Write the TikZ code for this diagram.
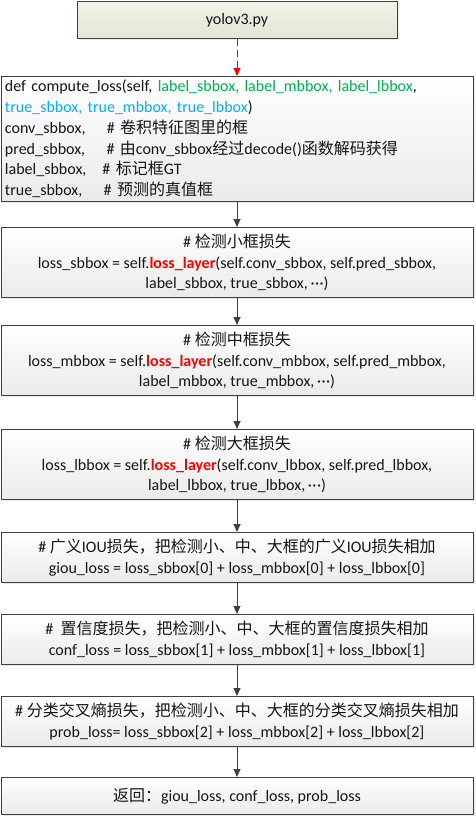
\documentclass[tikz,border=0pt]{standalone}
\usepackage{fontspec}
\setmainfont{Carlito}
\newfontfamily\cjk[Scale=1.0]{Noto Sans CJK SC}
\usetikzlibrary{arrows.meta,shadows}
\definecolor{lgreen}{HTML}{00B050}
\definecolor{lblue}{HTML}{00B0F0}
\definecolor{edge}{HTML}{404040}
\definecolor{txt}{HTML}{151515}
\newcommand\zh[1]{{\cjk #1}}
\newcommand\rl[1]{\textcolor{red}{\textbf{#1}}}
\newcommand\mdots{\,·\kern0.5pt·\kern0.5pt·}
\tikzset{
  box/.style={draw=edge, line width=0.9pt, top color=white, bottom color=black!8,
    drop shadow={shadow xshift=2pt, shadow yshift=-2pt, fill=black!18},
    minimum width=472pt, anchor=north, text=txt, align=center, inner sep=2pt,
    font=\fontsize{16}{20.8}\selectfont},
  topbox/.style={box, top color={rgb,255:red,240;green,243;blue,231}, bottom color={rgb,255:red,226;green,230;blue,212}, minimum width=320pt},
  arr/.style={draw=edge, line width=0.9pt, -{Triangle[length=8pt,width=7pt]}},
  darr/.style={draw=red, line width=0.9pt, dash pattern=on 7pt off 4pt, -{Triangle[length=8pt,width=7pt]}, fill=red}
}
\begin{document}
\begin{tikzpicture}[x=1pt,y=-1pt]
\useasboundingbox (0,0) rectangle (476,816);
\node[topbox, minimum height=37pt] (b1) at (237,1) {yolov3.py};
\node[box, minimum height=125pt, align=left, text width=464pt, inner xsep=4pt] (b2) at (237,76) {%
def compute\_loss(self, \textcolor{lgreen}{label\_sbbox, label\_mbbox, label\_lbbox},\\
\textcolor{lblue}{true\_sbbox, true\_mbbox, true\_lbbox})\\
conv\_sbbox,\quad\ \# \zh{卷积特征图里的框}\\
pred\_sbbox,\quad\ \# \zh{由}conv\_sbbox\zh{经过}decode()\zh{函数解码获得}\\
label\_sbbox,\quad \# \zh{标记框}GT\\
true\_sbbox,\quad\ \# \zh{预测的真值框}};
\node[box, minimum height=70pt] (b3) at (237,227) {%
\# \zh{检测小框损失}\\
loss\_sbbox = self.\rl{loss\_layer}(self.conv\_sbbox, self.pred\_sbbox,\\
label\_sbbox, true\_sbbox,\mdots)};
\node[box, minimum height=70pt] (b4) at (237,325) {%
\# \zh{检测中框损失}\\
loss\_mbbox = self.\rl{loss\_layer}(self.conv\_mbbox, self.pred\_mbbox,\\
label\_mbbox, true\_mbbox,\mdots)};
\node[box, minimum height=70pt] (b5) at (237,429) {%
\# \zh{检测大框损失}\\
loss\_lbbox = self.\rl{loss\_layer}(self.conv\_lbbox, self.pred\_lbbox,\\
label\_lbbox, true\_lbbox,\mdots)};
\node[box, minimum height=50pt] (b6) at (237,532) {%
\# \zh{广义}IOU\zh{损失，把检测小、中、大框的广义}IOU\zh{损失相加}\\
giou\_loss = loss\_sbbox[0] + loss\_mbbox[0] + loss\_lbbox[0]};
\node[box, minimum height=50pt] (b7) at (237,614) {%
\# \ \zh{置信度损失，把检测小、中、大框的置信度损失相加}\\
conf\_loss = loss\_sbbox[1] + loss\_mbbox[1] + loss\_lbbox[1]};
\node[box, minimum height=50pt] (b8) at (237,696) {%
\# \zh{分类交叉熵损失，把检测小、中、大框的分类交叉熵损失相加}\\
prob\_loss= loss\_sbbox[2] + loss\_mbbox[2] + loss\_lbbox[2]};
\node[box, minimum height=37pt] (b9) at (237,777) {%
\zh{返回：}giou\_loss, conf\_loss, prob\_loss};
\draw[darr] (b1) -- (b2);
\draw[arr] (b2) -- (b3);
\draw[arr] (b3) -- (b4);
\draw[arr] (b4) -- (b5);
\draw[arr] (b5) -- (b6);
\draw[arr] (b6) -- (b7);
\draw[arr] (b7) -- (b8);
\draw[arr] (b8) -- (b9);
\end{tikzpicture}
\end{document}
